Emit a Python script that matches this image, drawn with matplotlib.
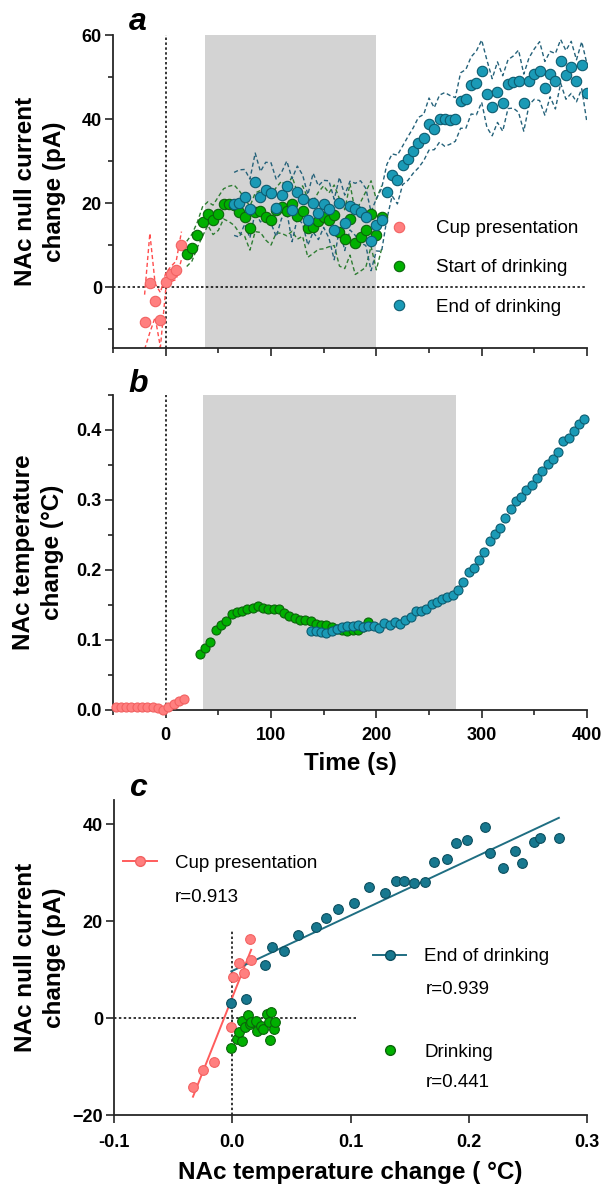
import numpy as np
import matplotlib.pyplot as plt
from matplotlib.ticker import MultipleLocator, FormatStrFormatter
from matplotlib.lines import Line2D

plt.rcParams['font.family'] = ['Liberation Sans', 'DejaVu Sans']
plt.rcParams['font.weight'] = 'bold'

# ---- panel a : null current vs time (mean +/- sem, 5 s bins)
cup_a_t = [-20, -15, -10, -5, 0, 5, 10, 15]
cup_a_i = [-8.3, 1.0, -3.2, -7.8, 1.3, 3.1, 4.0, 9.9]
cup_a_sem = [6.5, 11.8, 4.0, 6.5, 2.0, 1.8, 2.2, 3.3]

start_a_t = np.arange(20, 206, 5)
start_a_i = [7.9, 9.4, 12.4, 15.6, 17.5, 16.0, 17.5, 19.8, 19.8, 19.5,
             17.9, 16.6, 14.0, 17.8, 18.0, 16.7, 16.0, 18.3, 19.0, 18.0,
             19.8, 17.0, 18.1, 14.1, 14.2, 15.8, 16.6, 16.0, 17.1, 13.0,
             11.4, 16.1, 10.4, 12.0, 13.7, 17.5, 12.5, 16.6]
start_a_sem = [3.0, 3.2, 3.0, 3.5, 2.8, 3.5, 4.0, 3.6, 4.2, 4.8,
               5.0, 4.5, 5.2, 4.6, 5.0, 5.5, 6.0, 5.4, 6.2, 5.8,
               6.5, 5.6, 6.0, 7.0, 6.2, 6.8, 7.5, 6.4, 7.2, 8.0,
               7.0, 8.5, 7.4, 8.2, 9.0, 7.8, 8.4, 7.5]

end_a_t = np.arange(65, 401, 5)
end_a_i = [19.8, 19.9, 21.5, 18.7, 24.9, 21.5, 23.2, 22.4, 18.8, 21.8,
           24.0, 18.3, 22.6, 20.9, 16.0, 20.1, 17.7, 19.8, 18.5, 13.7,
           20.1, 15.3, 19.4, 18.5, 17.9, 16.7, 10.9, 14.8, 16.0,
           22.7, 26.7, 25.6, 29.0, 30.6, 32.5, 34.4, 35.6, 38.8, 37.7,
           40.1, 39.9, 39.8, 39.9, 44.4, 44.8, 48.0, 48.6, 51.4, 46.0,
           42.8, 46.4, 43.7, 48.3, 48.8, 49.0, 43.9, 49.0, 50.7, 51.4,
           47.3, 50.7, 49.0, 53.7, 50.5, 52.3, 49.1, 52.8, 46.1]
end_a_sem = [7.5, 8.0, 6.5, 7.0, 7.0, 6.0, 6.5, 7.2, 6.8, 5.5,
             6.0, 7.5, 6.2, 5.8, 6.0, 7.0, 6.4, 5.6, 6.8, 7.2,
             6.0, 6.6, 5.8, 6.2, 7.4, 6.8, 7.0, 6.2, 7.5,
             6.5, 5.0, 5.8, 4.6, 5.2, 5.4, 6.0, 5.5, 6.2, 5.0,
             5.6, 6.4, 5.8, 5.2, 6.6, 7.0, 6.8, 7.6, 7.4, 8.0,
             6.8, 7.2, 6.6, 5.8, 6.2, 7.4, 6.8, 5.6, 6.0, 7.0,
             6.4, 5.4, 6.6, 5.2, 5.8, 6.2, 5.0, 5.6, 7.0]

# ---- panel b : temperature vs time
cup_b_t = np.arange(-47.5, 20, 5)
cup_b_T = [0.005, 0.004, 0.004, 0.005, 0.004, 0.004, 0.005, 0.004, 0.003,
           0.000, 0.004, 0.009, 0.013, 0.016]
start_b_t = np.arange(32.5, 195, 5)
start_b_T = [0.080, 0.088, 0.097, 0.114, 0.121, 0.127, 0.137, 0.140, 0.142, 0.145,
             0.146, 0.148, 0.146, 0.144, 0.144, 0.144, 0.139, 0.134, 0.131, 0.128,
             0.128, 0.127, 0.123, 0.122, 0.121, 0.119, 0.116, 0.114, 0.113, 0.115,
             0.114, 0.118, 0.126]
end_b_t = np.arange(137.5, 400, 5)
end_b_T = [0.113, 0.113, 0.112, 0.110, 0.113, 0.116, 0.119, 0.120, 0.120, 0.121,
           0.119, 0.120, 0.120, 0.117, 0.125, 0.122, 0.126, 0.123, 0.128, 0.133,
           0.142, 0.142, 0.145, 0.152, 0.154, 0.158, 0.161, 0.165, 0.171, 0.183,
           0.197, 0.203, 0.215, 0.226, 0.242, 0.251, 0.260, 0.274, 0.287, 0.299,
           0.305, 0.314, 0.322, 0.331, 0.341, 0.351, 0.359, 0.369, 0.385, 0.388,
           0.399, 0.409, 0.416]

# ---- panel c : current vs temperature
cup_c_T = [-0.0332, -0.0251, -0.0158, -0.0008, 0.0006, 0.0059, 0.0101, 0.0152, 0.0160]
cup_c_i = [-14.2, -10.8, -9.1, -1.8, 8.5, 11.4, 9.2, 16.3, 11.9]
end_c_T = [-0.0008, 0.0118, 0.0281, 0.0338, 0.0439, 0.0560, 0.0706, 0.0791, 0.0895, 0.1032,
           0.1159, 0.1291, 0.1381, 0.1451, 0.1538, 0.1634, 0.1710, 0.1817, 0.1890, 0.1986,
           0.2138, 0.2180, 0.2290, 0.2388, 0.2450, 0.2549, 0.2605, 0.2762]
end_c_i = [3.2, 4.0, 10.9, 14.7, 13.8, 17.2, 18.7, 20.6, 22.5, 23.8,
           27.0, 25.9, 28.3, 28.2, 27.8, 28.1, 32.3, 32.9, 36.2, 36.7,
           39.4, 34.0, 30.9, 34.5, 31.9, 36.4, 37.1, 37.2]
drink_c_T = [-0.0008, 0.0039, 0.0084, 0.0056, 0.0084, 0.0110, 0.0130, 0.0152, 0.0158, 0.0203,
             0.0208, 0.0245, 0.0264, 0.0298, 0.0312, 0.0321, 0.0329, 0.0349, 0.0363]
drink_c_i = [-6.2, -4.3, -4.8, -2.9, -0.5, -1.9, 0.7, -1.2, -0.9, -0.5,
             -2.6, -1.6, -2.3, 0.8, -0.8, -4.5, 1.2, -2.3, -0.8]
r_labels = ['r=0.913', 'r=0.939', 'r=0.441']

# colours
red_f, red_e, red_d = '#FF7F7F', '#F26262', '#FF4D4D'
grn_f, grn_e, grn_d = '#00B000', '#0B640B', '#2E7D32'
blu_f, blu_e, blu_d = '#1A9AB6', '#0D5C70', '#25627A'
bc_f, bc_e, bc_l = '#17788F', '#0C4E5E', '#1F6E82'
gray = '#D3D3D3'
dot = (0, (1.6, 1.6))

W, H = 602, 1195
fig = plt.figure(figsize=(W / 100, H / 100), dpi=100)


def add_ax(l, t, r, b):
    return fig.add_axes([l / W, 1 - b / H, (r - l) / W, (b - t) / H])


def style(ax):
    for s in ['top', 'right']:
        ax.spines[s].set_visible(False)
    for s in ['left', 'bottom']:
        ax.spines[s].set_linewidth(1.3)
        ax.spines[s].set_color('#262626')
    ax.tick_params(which='major', direction='out', length=6, width=1.2,
                   color='#262626', labelsize=13, pad=2)
    ax.tick_params(which='minor', direction='out', length=3.5, width=1.2,
                   color='#262626')


leg_prop = {'size': 13.5, 'weight': 'normal'}

# ================= a =================
ax1 = add_ax(113, 35, 587, 348)
style(ax1)
ax1.axvspan(37, 200, color=gray, lw=0, zorder=0)
ax1.axvline(0, color='k', ls=dot, lw=1.1, zorder=1)
ax1.axhline(0, color='k', ls=dot, lw=1.1, zorder=1)
for t, m, e, c in [(cup_a_t, cup_a_i, cup_a_sem, red_d),
                   (start_a_t, start_a_i, start_a_sem, grn_d),
                   (end_a_t, end_a_i, end_a_sem, blu_d)]:
    m = np.array(m)
    e = np.array(e)
    ax1.plot(t, m + e, ls=(0, (3, 2)), color=c, lw=1.0, zorder=2)
    ax1.plot(t, m - e, ls=(0, (3, 2)), color=c, lw=1.0, zorder=2)
ax1.plot(cup_a_t, cup_a_i, 'o', ms=7.5, mfc=red_f, mec=red_e, mew=0.8, zorder=3,
         label='Cup presentation')
ax1.plot(start_a_t, start_a_i, 'o', ms=7.5, mfc=grn_f, mec=grn_e, mew=0.8, zorder=3,
         label='Start of drinking')
ax1.plot(end_a_t, end_a_i, 'o', ms=7.5, mfc=blu_f, mec=blu_e, mew=0.8, zorder=4,
         label='End of drinking')
ax1.set_xlim(-50, 400)
ax1.set_ylim(-14.5, 60)
ax1.xaxis.set_major_locator(MultipleLocator(100))
ax1.xaxis.set_minor_locator(MultipleLocator(50))
ax1.yaxis.set_major_locator(MultipleLocator(20))
ax1.yaxis.set_minor_locator(MultipleLocator(10))
ax1.tick_params(labelbottom=False)
ax1.set_ylabel('NAc null current\nchange (pA)', fontsize=17.5, fontweight='bold',
               linespacing=1.35, va='center')
ax1.yaxis.set_label_coords(-0.154, 0.5)
ax1.legend(loc='center left', bbox_to_anchor=(0.5835, 0.256), frameon=False,
           handlelength=1.0, handletextpad=1.5, labelspacing=1.18, borderpad=0,
           borderaxespad=0, prop=leg_prop)

# ================= b =================
ax2 = add_ax(113, 395, 587, 710)
style(ax2)
ax2.axvspan(35, 276, color=gray, lw=0, zorder=0)
ax2.axvline(0, color='k', ls=dot, lw=1.1, zorder=1)
ax2.plot(cup_b_t, cup_b_T, 'o', ms=6.5, mfc=red_f, mec=red_e, mew=0.8, zorder=3, clip_on=False)
ax2.plot(start_b_t, start_b_T, 'o', ms=6.5, mfc=grn_f, mec=grn_e, mew=0.8, zorder=3)
ax2.plot(end_b_t, end_b_T, 'o', ms=6.5, mfc=blu_f, mec=blu_e, mew=0.8, zorder=4, clip_on=False)
ax2.set_xlim(-50, 400)
ax2.set_ylim(0, 0.45)
ax2.xaxis.set_major_locator(MultipleLocator(100))
ax2.xaxis.set_minor_locator(MultipleLocator(50))
ax2.yaxis.set_major_locator(MultipleLocator(0.1))
ax2.yaxis.set_minor_locator(MultipleLocator(0.05))
ax2.yaxis.set_major_formatter(FormatStrFormatter('%.1f'))
ax2.tick_params(axis='x', which='major', pad=6)
ax2.set_ylabel('NAc temperature\nchange (°C)', fontsize=17.5, fontweight='bold',
               linespacing=1.35, va='center')
ax2.yaxis.set_label_coords(-0.158, 0.5)
ax2.set_xlabel('Time (s)', fontsize=17.5, fontweight='bold', labelpad=6)

# ================= c =================
ax3 = add_ax(114, 800, 587, 1115)
style(ax3)
ax3.vlines(0, -20, 18, color='k', ls=dot, lw=1.1, zorder=1)
ax3.hlines(0, -0.1, 0.105, color='k', ls=dot, lw=1.1, zorder=1)
for xs, ys, c in [(cup_c_T, cup_c_i, '#FF5C5C'), (end_c_T, end_c_i, bc_l)]:
    k, b0 = np.polyfit(xs, ys, 1)
    xx = np.array([min(xs), max(xs)])
    ax3.plot(xx, k * xx + b0, color=c, lw=1.4, zorder=2)
ax3.plot(cup_c_T, cup_c_i, 'o', ms=7, mfc=red_f, mec=red_e, mew=0.8, zorder=3)
ax3.plot(drink_c_T, drink_c_i, 'o', ms=7, mfc=grn_f, mec=grn_e, mew=0.8, zorder=3)
ax3.plot(end_c_T, end_c_i, 'o', ms=7, mfc=bc_f, mec=bc_e, mew=0.8, zorder=4)
ax3.set_xlim(-0.1, 0.3)
ax3.set_ylim(-20, 45)
ax3.xaxis.set_major_locator(MultipleLocator(0.1))
ax3.yaxis.set_major_locator(MultipleLocator(20))
ax3.xaxis.set_major_formatter(FormatStrFormatter('%.1f'))
ax3.tick_params(axis='x', which='major', pad=8)
ax3.set_ylabel('NAc null current\nchange (pA)', fontsize=17.5, fontweight='bold',
               linespacing=1.35, va='center')
ax3.yaxis.set_label_coords(-0.156, 0.5)
ax3.set_xlabel('NAc temperature change ( °C)', fontsize=17.5, fontweight='bold', labelpad=7)

h_cup = Line2D([], [], color='#FF5C5C', lw=1.4, marker='o', ms=7, mfc=red_f, mec=red_e)
h_end = Line2D([], [], color=bc_l, lw=1.4, marker='o', ms=7, mfc=bc_f, mec=bc_e)
h_drk = Line2D([], [], ls='none', marker='o', ms=7, mfc=grn_f, mec=grn_e)
kw = dict(loc='center left', frameon=False, handlelength=1.8, handletextpad=0.95,
          borderpad=0, borderaxespad=0, prop=leg_prop)
l1 = ax3.legend([h_cup], ['Cup presentation'], bbox_to_anchor=(0.019, 0.80), **kw)
ax3.add_artist(l1)
l2 = ax3.legend([h_end], ['End of drinking'], bbox_to_anchor=(0.547, 0.502), **kw)
ax3.add_artist(l2)
ax3.legend([h_drk], ['Drinking'], bbox_to_anchor=(0.547, 0.20), **kw)
for (x, y), s in zip([(0.129, 0.692), (0.66, 0.40), (0.66, 0.102)], r_labels):
    ax3.text(x, y, s, transform=ax3.transAxes, va='center', ha='left',
             fontsize=13.5, fontweight='normal')

# panel letters
for (x, y), s in zip([(138, 30), (138, 392), (138, 796)], ['a', 'b', 'c']):
    fig.text(x / W, 1 - y / H, s, fontsize=23, fontweight='bold', style='italic',
             ha='center', va='baseline')

fig.savefig('out.png', dpi=100)
